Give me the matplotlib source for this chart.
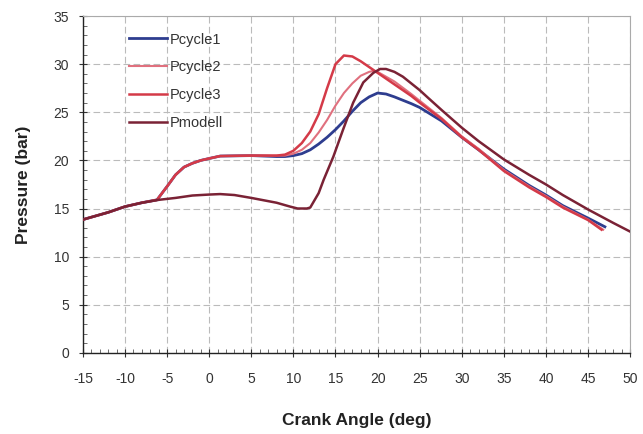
import matplotlib
matplotlib.use("Agg")
import matplotlib.pyplot as plt
from matplotlib.ticker import MultipleLocator

plt.rcParams['font.family'] = ['Liberation Sans', 'DejaVu Sans']

angle_c1 = [-15, -12, -10, -8, -6.2, -5, -4, -3, -2, -1, 0, 1.3, 5, 8, 9, 10, 11, 12, 13, 14, 15, 16, 17, 18, 19, 20, 21, 22, 24, 25, 27.6, 30, 32, 35, 38, 40, 42, 45, 47]
p_c1 = [13.85, 14.6, 15.2, 15.6, 15.9, 17.3, 18.5, 19.3, 19.7, 20.0, 20.2, 20.45, 20.5, 20.4, 20.4, 20.5, 20.7, 21.1, 21.7, 22.4, 23.2, 24.1, 25.1, 26.0, 26.6, 27.0, 26.9, 26.6, 25.9, 25.5, 24.1, 22.4, 21.1, 19.1, 17.4, 16.4, 15.3, 14.0, 13.1]

angle_c2 = [-15, -12, -10, -8, -6.2, -5, -4, -3, -2, -1, 0, 1.3, 5, 8, 9, 10, 11, 12, 13, 14, 15, 16, 17, 18, 19, 19.5, 20, 21, 22, 24, 25, 27.6, 30, 32, 35, 38, 40, 42, 45, 46.8]
p_c2 = [13.85, 14.6, 15.2, 15.6, 15.9, 17.3, 18.5, 19.3, 19.7, 20.0, 20.2, 20.45, 20.5, 20.5, 20.5, 20.7, 21.1, 21.8, 22.9, 24.2, 25.7, 27.0, 28.0, 28.8, 29.2, 29.3, 29.2, 28.7, 28.2, 26.9, 26.2, 24.4, 22.5, 21.2, 19.0, 17.3, 16.3, 15.2, 13.85, 12.8]

angle_c3 = [-15, -12, -10, -8, -6.2, -5, -4, -3, -2, -1, 0, 1.3, 5, 8, 9, 10, 11, 12, 13, 14, 15, 16, 17, 18, 19, 20, 21, 22, 24, 25, 27.6, 30, 32, 35, 38, 40, 42, 45, 46.6]
p_c3 = [13.85, 14.6, 15.2, 15.6, 15.9, 17.3, 18.5, 19.3, 19.7, 20.0, 20.2, 20.45, 20.5, 20.5, 20.6, 21.0, 21.8, 23.0, 24.8, 27.5, 30.0, 30.9, 30.8, 30.3, 29.7, 29.1, 28.5, 27.9, 26.7, 26.0, 24.3, 22.4, 21.1, 18.9, 17.2, 16.2, 15.1, 13.8, 12.8]

angle_m = [-15, -12, -10, -8, -6, -4, -2, 0, 1.3, 3, 5, 8, 9.6, 10.5, 11.6, 12, 13, 13.6, 14.75, 15.9, 17.1, 18.3, 19.5, 20.3, 21, 22, 23, 24, 25, 26, 27.65, 30, 32, 35, 38, 40, 42, 45, 48, 50]
p_m = [13.85, 14.6, 15.2, 15.6, 15.9, 16.1, 16.35, 16.45, 16.5, 16.4, 16.1, 15.6, 15.2, 15.0, 15.0, 15.1, 16.6, 18.0, 20.4, 23.2, 26.0, 28.1, 29.1, 29.5, 29.5, 29.2, 28.7, 28.0, 27.3, 26.5, 25.2, 23.4, 22.0, 20.1, 18.5, 17.5, 16.4, 14.9, 13.5, 12.6]

x_ticks = [-15, -10, -5, 0, 5, 10, 15, 20, 25, 30, 35, 40, 45, 50]
y_ticks = [0, 5, 10, 15, 20, 25, 30, 35]

fig = plt.figure(figsize=(6.43, 4.34), dpi=100)
ax = fig.add_axes([0.129, 0.187, 0.851, 0.776])

ax.plot(angle_c1, p_c1, color='#2e3d8f', lw=2.0, label='Pcycle1', zorder=3)
ax.plot(angle_c2, p_c2, color='#e0707e', lw=1.5, label='Pcycle2', zorder=3)
ax.plot(angle_c3, p_c3, color='#d43a48', lw=1.8, label='Pcycle3', zorder=3)
ax.plot(angle_m, p_m, color='#7a2235', lw=1.8, label='Pmodell', zorder=4)

ax.set_xlim(-15, 50)
ax.set_ylim(0, 35)
ax.set_xticks(x_ticks)
ax.set_yticks(y_ticks)
ax.set_xticklabels([str(t) for t in x_ticks])
ax.xaxis.set_minor_locator(MultipleLocator(1))
ax.yaxis.set_minor_locator(MultipleLocator(1))
ax.tick_params(axis='both', which='major', direction='inout', length=6, labelsize=10, colors='#333333')
ax.tick_params(axis='x', which='major', pad=11)
ax.tick_params(axis='y', which='major', pad=7)
ax.tick_params(axis='both', which='minor', direction='in', length=3, colors='#555555')

ax.grid(True, which='major', color='#bbbbbb', lw=0.8, ls=(0, (6, 3)))

for s in ['top', 'right']:
    ax.spines[s].set_color('#aaaaaa')
    ax.spines[s].set_linewidth(0.8)
for s in ['left', 'bottom']:
    ax.spines[s].set_color('#222222')
    ax.spines[s].set_linewidth(1.0)

ax.set_xlabel('Crank Angle (deg)', fontsize=12.5, fontweight='bold', color='#222222', labelpad=19)
ax.set_ylabel('Pressure (bar)', fontsize=12.5, fontweight='bold', color='#222222', labelpad=16)

leg = ax.legend(loc='upper left', bbox_to_anchor=(0.06, 0.99), frameon=False, fontsize=10.5,
                handlelength=2.6, labelspacing=0.95, handletextpad=0.2)
for t in leg.get_texts():
    t.set_color('#333333')

fig.savefig('out.png', dpi=100)
